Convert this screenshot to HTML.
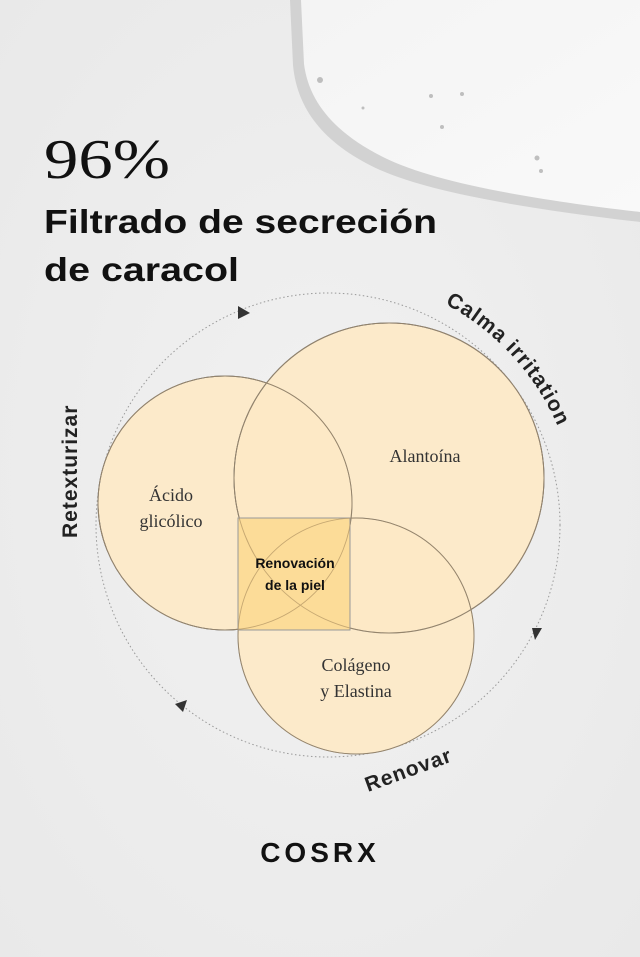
<!DOCTYPE html>
<html><head><meta charset="utf-8"><style>
html,body{margin:0;padding:0;background:#eeeeee;}
svg{display:block}
</style></head><body>
<svg width="640" height="957" viewBox="0 0 640 957" xmlns="http://www.w3.org/2000/svg">
<defs>
<radialGradient id="bg" cx="0.5" cy="0.5" r="0.7"><stop offset="0" stop-color="#f1f1f1"/><stop offset="1" stop-color="#e9e9e9"/></radialGradient>
<linearGradient id="blob" x1="0" y1="0" x2="1" y2="1"><stop offset="0" stop-color="#f4f4f4"/><stop offset="1" stop-color="#f9f9f9"/></linearGradient>
<path id="arcTop" d="M 445 304 A 250 250 0 0 1 577 503"/>
</defs>
<rect width="640" height="957" fill="url(#bg)"/>
<!-- gel blob -->
<path d="M 290 0 L 293 65 C 297 110 325 145 380 170 C 430 192 520 208 640 222 L 640 0 Z" fill="#d2d2d2"/>
<path d="M 301 0 L 304 64 C 309 103 336 134 385 158 C 432 181 520 198 640 212 L 640 0 Z" fill="url(#blob)"/>
<g fill="#9a9a9a" opacity="0.6">
<circle cx="320" cy="80" r="3"/><circle cx="431" cy="96" r="2"/><circle cx="462" cy="94" r="2"/><circle cx="442" cy="127" r="2"/><circle cx="537" cy="158" r="2.5"/><circle cx="541" cy="171" r="2"/><circle cx="363" cy="108" r="1.5"/>
</g>
<!-- title -->
<text x="44" y="178" font-family="Liberation Serif, serif" font-size="56" fill="#111" textLength="126" lengthAdjust="spacingAndGlyphs">96%</text>
<text x="44" y="233" font-family="Liberation Sans, sans-serif" font-weight="bold" font-size="33" fill="#111" textLength="393" lengthAdjust="spacingAndGlyphs">Filtrado de secreción</text>
<text x="44" y="281" font-family="Liberation Sans, sans-serif" font-weight="bold" font-size="33" fill="#111" textLength="195" lengthAdjust="spacingAndGlyphs">de caracol</text>
<!-- dotted ring -->
<circle cx="328" cy="525" r="232" fill="none" stroke="#999" stroke-width="1" stroke-dasharray="1.5 2.5"/>
<!-- circles -->
<g stroke="#777" stroke-width="1">
<circle cx="225" cy="503" r="127" fill="#fde9c5" fill-opacity="0.9"/>
<circle cx="389" cy="478" r="155" fill="#fde9c5" fill-opacity="0.9"/>
<circle cx="356" cy="636" r="118" fill="#fde9c5" fill-opacity="0.9"/>
</g>
<g fill="none" stroke="#777" stroke-width="1">
<circle cx="225" cy="503" r="127"/><circle cx="389" cy="478" r="155"/>
</g>
<rect x="238" y="518" width="112" height="112" fill="#fbd98f" fill-opacity="0.85" stroke="#999" stroke-width="1"/>
<g fill="none" stroke="#b09060" stroke-width="0.8" opacity="0.6">
<circle cx="225" cy="503" r="127"/><circle cx="389" cy="478" r="155"/><circle cx="356" cy="636" r="118"/>
</g>
<!-- arrowheads -->
<path d="M 238 306 L 250 313 L 238 319 Z" fill="#333"/>
<path d="M 532 628 L 542 628 L 535 640 Z" fill="#333"/>
<path d="M 175 704 L 187 700 L 183 712 Z" fill="#333"/>
<!-- labels -->
<g font-family="Liberation Serif, serif" font-size="18" fill="#333" text-anchor="middle">
<text x="171" y="501">Ácido</text><text x="171" y="527">glicólico</text>
<text x="425" y="462">Alantoína</text>
<text x="356" y="671">Colágeno</text><text x="356" y="697">y Elastina</text>
</g>
<g font-family="Liberation Sans, sans-serif" font-weight="bold" font-size="14" fill="#111" text-anchor="middle">
<text x="295" y="568">Renovación</text><text x="295" y="590">de la piel</text>
</g>
<g font-family="Liberation Sans, sans-serif" font-weight="bold" font-size="21" fill="#222" letter-spacing="1">
<text transform="translate(77,538) rotate(-90)">Retexturizar</text>
<text><textPath href="#arcTop" startOffset="0">Calma irritation</textPath></text>
<text transform="translate(368,792) rotate(-20)">Renovar</text>
</g>
<text x="320" y="862" text-anchor="middle" font-family="Liberation Sans, sans-serif" font-weight="bold" font-size="28" letter-spacing="4" fill="#111">COSRX</text>
</svg>
</body></html>
